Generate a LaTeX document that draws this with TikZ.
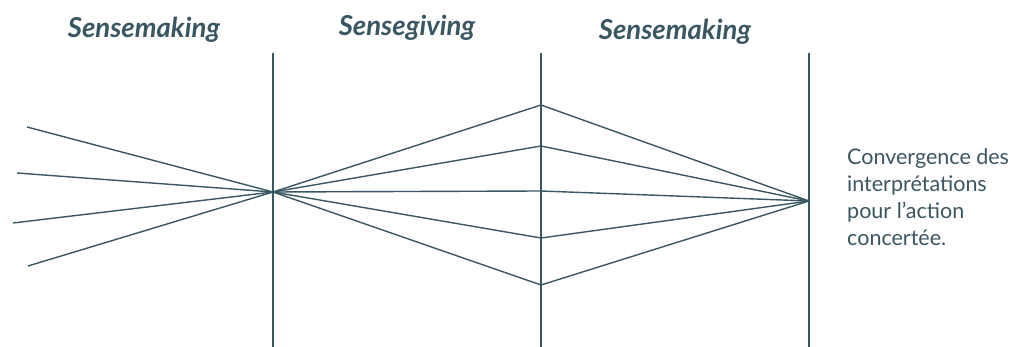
\documentclass[tikz,border=0pt]{standalone}
\usepackage{fontspec}
\setmainfont{Lato}
\definecolor{ink}{RGB}{58,86,98}
\begin{document}
\begin{tikzpicture}[x=1pt,y=-1pt,
  axis/.style={draw=ink,line width=2.4pt},
  ray/.style={draw=ink,line width=1.4pt},
  head/.style={text=ink,font=\fontsize{27.5}{32}\selectfont\bfseries\itshape,anchor=center},
  note/.style={text=ink,font=\fontsize{21.5}{27}\selectfont,align=left,anchor=north west,inner sep=0pt}]
\useasboundingbox (0,0) rectangle (1018,347);
% vertical axes
\coordinate (a1t) at (273,53); \coordinate (a1b) at (273,347);
\coordinate (a2t) at (541,53); \coordinate (a2b) at (541,347);
\coordinate (a3t) at (809,53); \coordinate (a3b) at (809,347);
\draw[axis] (a1t) -- (a1b);
\draw[axis] (a2t) -- (a2b);
\draw[axis] (a3t) -- (a3b);
% convergence points
\coordinate (c1) at (273,192);
\coordinate (c3) at (809,201);
% left free ends
\coordinate (l1) at (27,127);
\coordinate (l2) at (17,173);
\coordinate (l3) at (13,223);
\coordinate (l4) at (28,266);
\foreach \p in {l1,l2,l3,l4} \draw[ray] (\p) -- (c1);
% middle points
\coordinate (m1) at (541,105);
\coordinate (m2) at (541,146);
\coordinate (m3) at (541,191);
\coordinate (m4) at (541,238);
\coordinate (m5) at (541,285);
\foreach \p in {m1,m2,m3,m4,m5} {\draw[ray] (c1) -- (\p); \draw[ray] (\p) -- (c3);}
% headings
\node[head] (h1) at (144,30) {Sensemaking};
\node[head] (h2) at (407,28) {Sensegiving};
\node[head] (h3) at (675,32) {Sensemaking};
% note
\node[note] (n) at (847,148) {Convergence des\\interprétations\\pour l’action\\concertée.};
\end{tikzpicture}
\end{document}
